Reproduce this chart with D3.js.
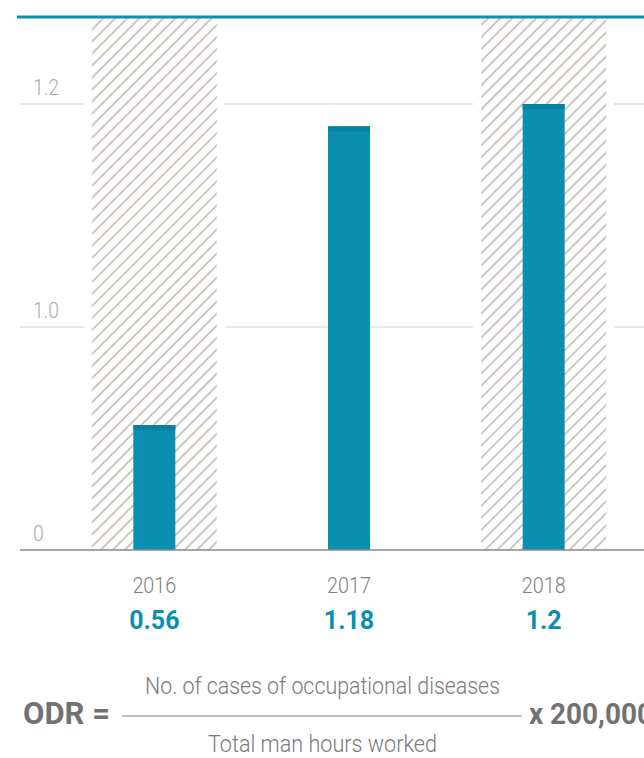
<!DOCTYPE html>
<html>
<head>
<meta charset="utf-8">
<script src="https://cdn.jsdelivr.net/npm/d3@7"></script>
<style>
  html, body { margin: 0; padding: 0; background: #fff; }
  svg { display: block; }
  text { font-family: "Roboto", "Liberation Sans", sans-serif; }
</style>
</head>
<body>
<div id="chart"></div>
<script>
// values
const years = ["2016", "2017", "2018"];
const odr = [0.56, 1.18, 1.2];
const highlighted = ["2016", "2018"];
const yTicks = [0, 1.0, 1.2];
const yTickLabels = ["0", "1.0", "1.2"];

const W = 644, H = 758;
const teal = "#0a8fb0";

const svg = d3.select("#chart").append("svg")
    .attr("width", W)
    .attr("height", H);

const x = d3.scaleBand()
    .domain(years)
    .range([57, 641])
    .paddingInner(0);

// broken axis: 0 -> 1.0 and 1.0 -> 1.2 each take the same height
const y = d3.scaleLinear()
    .domain([0, 1.0, 1.2])
    .range([550, 327, 104]);

const plotTop = 17;
const bandW = 125;
const barW = 42;

// hatch pattern
const defs = svg.append("defs");
const pat = defs.append("pattern")
    .attr("id", "hatch")
    .attr("patternUnits", "userSpaceOnUse")
    .attr("width", 8.5)
    .attr("height", 8.5)
    .attr("patternTransform", "rotate(45)");
pat.append("line")
    .attr("x1", 1).attr("y1", 0)
    .attr("x2", 1).attr("y2", 8.5)
    .attr("stroke", "#b5aba2")
    .attr("stroke-width", 1.3);

const cx = d => x(d) + x.bandwidth() / 2;

// gridlines (interrupted around the hatched bands)
const gridYs = yTicks.filter(t => t > 0);
gridYs.forEach(t => {
    let segs = [[20, W]];
    highlighted.forEach(h => {
        const a = cx(h) - bandW / 2 - 8, b = cx(h) + bandW / 2 + 8;
        segs = segs.flatMap(([s, e]) => {
            if (b <= s || a >= e) return [[s, e]];
            const out = [];
            if (a > s) out.push([s, a]);
            if (b < e) out.push([b, e]);
            return out;
        });
    });
    svg.append("g").selectAll("line")
        .data(segs)
        .join("line")
        .attr("x1", d => d[0])
        .attr("x2", d => d[1])
        .attr("y1", y(t))
        .attr("y2", y(t))
        .attr("stroke", "#d2d2d2")
        .attr("stroke-width", 1.2);
});

// hatched bands
svg.append("g").selectAll("rect")
    .data(highlighted)
    .join("rect")
    .attr("x", d => cx(d) - bandW / 2)
    .attr("y", plotTop + 1)
    .attr("width", bandW)
    .attr("height", y(0) - plotTop - 1)
    .attr("fill", "url(#hatch)");

// top rule
svg.append("line")
    .attr("x1", 17).attr("x2", W)
    .attr("y1", plotTop).attr("y2", plotTop)
    .attr("stroke", teal)
    .attr("stroke-width", 3);

// bars
const bars = svg.append("g").selectAll("g")
    .data(years.map((yr, i) => ({ yr, v: odr[i] })))
    .join("g");

bars.append("rect")
    .attr("x", d => cx(d.yr) - barW / 2)
    .attr("y", d => y(d.v))
    .attr("width", barW)
    .attr("height", d => y(0) - y(d.v))
    .attr("fill", teal);

bars.append("rect")
    .attr("x", d => cx(d.yr) - barW / 2)
    .attr("y", d => y(d.v))
    .attr("width", barW)
    .attr("height", 5)
    .attr("fill", "#0880a0");

// baseline
svg.append("line")
    .attr("x1", 20).attr("x2", W)
    .attr("y1", y(0)).attr("y2", y(0))
    .attr("stroke", "#8a8a8a")
    .attr("stroke-width", 1.5);

// y tick labels
svg.append("g").selectAll("text")
    .data(yTicks)
    .join("text")
    .attr("transform", d => `translate(33,${y(d) - 9}) scale(0.88,1)`)
    .attr("font-size", 22)
    .attr("font-weight", 300)
    .attr("fill", "#aaaaaa")
    .text((d, i) => yTickLabels[i]);

// year labels
svg.append("g").selectAll("text")
    .data(years)
    .join("text")
    .attr("transform", d => `translate(${cx(d)},593) scale(0.9,1)`)
    .attr("text-anchor", "middle")
    .attr("font-size", 22)
    .attr("font-weight", 300)
    .attr("fill", "#808080")
    .text(d => d);

// value labels
svg.append("g").selectAll("text")
    .data(odr)
    .join("text")
    .attr("x", (d, i) => cx(years[i]))
    .attr("y", 629)
    .attr("text-anchor", "middle")
    .attr("font-weight", "bold")
    .attr("font-size", 25)
    .attr("fill", teal)
    .text(d => d);

// formula
const f = svg.append("g");
f.append("text")
    .attr("x", 23).attr("y", 724)
    .attr("font-size", 31)
    .attr("font-weight", "bold")
    .attr("fill", "#727272")
    .attr("textLength", 87)
    .attr("lengthAdjust", "spacingAndGlyphs")
    .text("ODR =");
f.append("line")
    .attr("x1", 122).attr("x2", 522)
    .attr("y1", 716).attr("y2", 716)
    .attr("stroke", "#808080")
    .attr("stroke-width", 1);
f.append("text")
    .attr("x", 145).attr("y", 694)
    .attr("font-size", 24)
    .attr("font-weight", 300)
    .attr("fill", "#7a7a7a")
    .attr("textLength", 355)
    .attr("lengthAdjust", "spacingAndGlyphs")
    .text("No. of cases of occupational diseases");
f.append("text")
    .attr("x", 208).attr("y", 752)
    .attr("font-size", 24)
    .attr("font-weight", 300)
    .attr("fill", "#7a7a7a")
    .attr("textLength", 229)
    .attr("lengthAdjust", "spacingAndGlyphs")
    .text("Total man hours worked");
f.append("text")
    .attr("x", 529).attr("y", 724)
    .attr("font-size", 29)
    .attr("font-weight", "bold")
    .attr("fill", "#727272")
    .attr("textLength", 124)
    .attr("lengthAdjust", "spacingAndGlyphs")
    .text("x 200,000");
</script>
</body>
</html>
